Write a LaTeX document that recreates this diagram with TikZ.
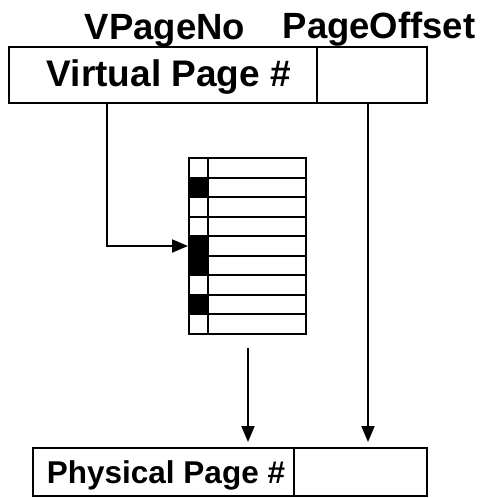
\documentclass[tikz,border=0pt]{standalone}
\usepackage{fontspec}
\setmainfont{Liberation Sans}
\usetikzlibrary{arrows.meta}
\begin{document}
\begin{tikzpicture}[x=1pt,y=-1pt,line width=2pt,
  box/.style={draw,rectangle,inner sep=0pt},
  arr/.style={-{Triangle[length=16pt,width=13pt]},line width=2pt},
  lbl/.style={font=\bfseries\fontsize{36.5}{42}\selectfont,inner sep=0pt},
  boxtxt/.style={font=\bfseries\fontsize{37}{42}\selectfont,inner sep=0pt},
  boxtxtsm/.style={font=\bfseries\fontsize{31.5}{36}\selectfont,inner sep=0pt}]
\useasboundingbox (0,0) rectangle (481,498);
\def\rh{19.5556}
% table fills
\foreach \r in {2,5,6,8}
  \fill (189,{158+(\r-1)*\rh}) rectangle (208,{158+\r*\rh});
\foreach \i in {1,...,8}
  \draw (189,{158+\i*\rh}) -- (306,{158+\i*\rh});
\draw (208,158) -- (208,334);
\node[box,minimum width=117pt,minimum height=176pt] (table) at (247.5,246) {};
% top address
\node[box,minimum width=308pt,minimum height=56pt] (vpn) at (163,75) {};
\node[box,minimum width=110pt,minimum height=56pt] (voff) at (372,75) {};
\node[boxtxt,anchor=base] (vpntxt) at (169,86) {Virtual Page \#};
\node[lbl,anchor=base] (lvpn) at (165,39) {VPageNo};
\node[lbl,anchor=base] (lvoff) at (379,38) {PageOffset};
% bottom address
\node[box,minimum width=261pt,minimum height=48pt] (ppn) at (163.5,472) {};
\node[box,minimum width=133pt,minimum height=48pt] (poff) at (360.5,472) {};
\node[boxtxtsm,anchor=base] (ppntxt) at (166,483) {Physical Page \#};
% connectors
\coordinate (vx) at (107,0);
\coordinate (rx) at (368,0);
\coordinate (tbot) at (248,348);
\draw[arr] (vpn.south -| vx) |- (table.west);
\draw[arr,shorten >=5pt] (voff.south -| rx) -- (poff.north -| rx);
\draw[arr,shorten >=5pt] (tbot) -- (ppn.north -| tbot);
\end{tikzpicture}
\end{document}
